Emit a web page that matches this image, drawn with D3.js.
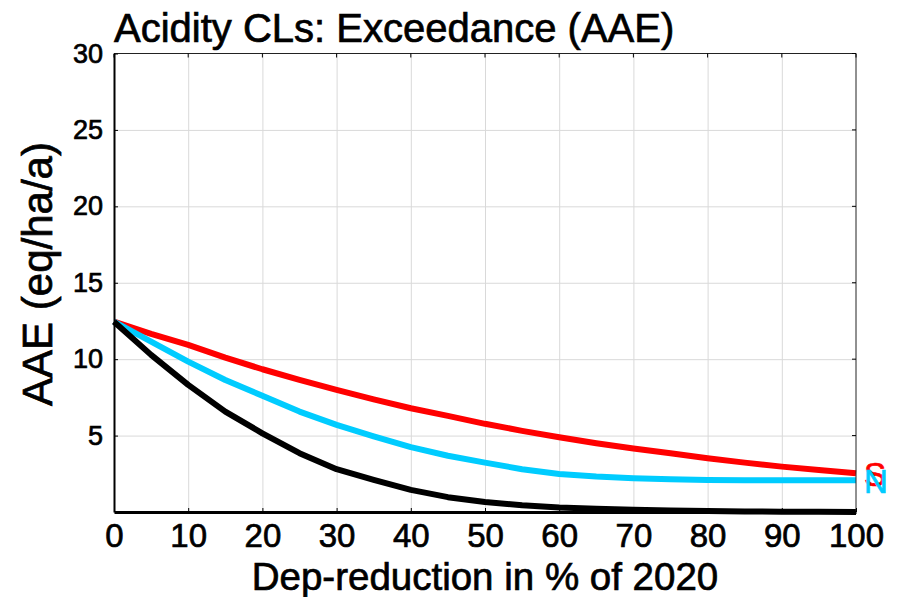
<!DOCTYPE html>
<html>
<head>
<meta charset="utf-8">
<script src="https://cdn.jsdelivr.net/npm/d3@7"></script>
<style>
    body { margin: 0; background: #fff; }
    text { font-family: "Liberation Sans", Arial, sans-serif; fill: #000; stroke-width: 0.7; paint-order: stroke; }
    .grid line { stroke: #d9d9d9; stroke-width: 1; }
    .grid path { display: none; }
    .line { fill: none; stroke-width: 6; stroke-linejoin: round; stroke-linecap: butt; }
</style>
</head>
<body>
<div id="chart"></div>
<script>
// Deposition reduction steps (%)
const REDUCTION = [0, 5, 10, 15, 20, 25, 30, 35, 40, 45, 50, 55, 60, 65, 70, 75, 80, 85, 90, 95, 100];
// AAE when reducing S only
const AAE_S = [12.45, 11.66, 10.93, 10.1, 9.34, 8.64, 7.99, 7.37, 6.79, 6.29, 5.77, 5.31, 4.89, 4.5, 4.15, 3.84, 3.52, 3.23, 2.97, 2.75, 2.54];
// AAE when reducing N only
const AAE_N = [12.45, 11.15, 9.84, 8.64, 7.6, 6.57, 5.7, 4.95, 4.24, 3.68, 3.23, 2.8, 2.49, 2.32, 2.21, 2.15, 2.1, 2.08, 2.08, 2.08, 2.08];
// AAE when reducing both
const AAE_SN = [12.45, 10.28, 8.32, 6.57, 5.15, 3.85, 2.8, 2.1, 1.45, 0.97, 0.66, 0.44, 0.3, 0.22, 0.15, 0.1, 0.06, 0.04, 0.02, 0.01, 0];

const X_TICKS = [0, 10, 20, 30, 40, 50, 60, 70, 80, 90, 100];
const Y_TICKS = [5, 10, 15, 20, 25, 30];

const width = 904;
const height = 597;
const margin = {top: 53.5, right: 48, bottom: 85, left: 114};
const innerWidth = width - margin.left - margin.right;
const innerHeight = height - margin.top - margin.bottom;

const svg = d3.select("#chart")
    .append("svg")
    .attr("width", width)
    .attr("height", height);

const xScale = d3.scaleLinear().domain([0, 100]).range([0, innerWidth]);
const yScale = d3.scaleLinear().domain([0, 30]).range([innerHeight, 0]);

const root = svg.append("g")
    .attr("transform", `translate(${margin.left}, ${margin.top})`);

// Grid
root.append("g")
    .attr("class", "grid")
    .call(d3.axisBottom(xScale).tickValues(X_TICKS.slice(1, -1)).tickSize(innerHeight).tickFormat(""));
root.append("g")
    .attr("class", "grid")
    .call(d3.axisLeft(yScale).tickValues(Y_TICKS.slice(0, -1)).tickSize(-innerWidth).tickFormat(""));

// Series
const lineGen = d3.line()
    .x((d, i) => xScale(REDUCTION[i]))
    .y(d => yScale(d));

const SERIES = [
    {values: AAE_S, color: "#ff0000", label: "S"},
    {values: AAE_N, color: "#00ccff", label: "N"},
    {values: AAE_SN, color: "#000000", label: null}
];

root.selectAll(".line")
    .data(SERIES)
  .enter().append("path")
    .attr("class", "line")
    .attr("stroke", d => d.color)
    .attr("d", d => lineGen(d.values));

// Frame: top and right thin
root.append("line")
    .attr("x1", 0).attr("x2", innerWidth).attr("y1", 0).attr("y2", 0)
    .attr("stroke", "#222").attr("stroke-width", 1);
root.append("line")
    .attr("x1", innerWidth).attr("x2", innerWidth).attr("y1", 0).attr("y2", innerHeight)
    .attr("stroke", "#222").attr("stroke-width", 1);

// Inward ticks on top and right
root.selectAll(".tick-top")
    .data(X_TICKS)
  .enter().append("line")
    .attr("x1", d => xScale(d)).attr("x2", d => xScale(d))
    .attr("y1", 0).attr("y2", 4)
    .attr("stroke", "#000");
root.selectAll(".tick-right")
    .data(Y_TICKS)
  .enter().append("line")
    .attr("x1", innerWidth).attr("x2", innerWidth - 4)
    .attr("y1", d => yScale(d)).attr("y2", d => yScale(d))
    .attr("stroke", "#000");

// X axis
const xAxis = root.append("g")
    .attr("transform", `translate(0, ${innerHeight})`)
    .call(d3.axisBottom(xScale).tickValues(X_TICKS).tickSizeInner(-4).tickSizeOuter(0).tickPadding(11));
xAxis.select(".domain").attr("stroke", "#000").attr("stroke-width", 3);
xAxis.selectAll(".tick line").attr("stroke", "#000");
xAxis.selectAll(".tick text")
    .attr("font-size", 33)
    .attr("dy", "0.72em")
    .style("stroke", "#000");

// Y axis
const yAxis = root.append("g")
    .call(d3.axisLeft(yScale).tickValues(Y_TICKS).tickSizeInner(-4).tickSizeOuter(0).tickPadding(11));
yAxis.select(".domain").attr("stroke", "#000").attr("stroke-width", 2);
yAxis.selectAll(".tick line").attr("stroke", "#000");
yAxis.selectAll(".tick text")
    .attr("font-size", 27)
    .style("stroke", "#000");

// End labels
root.selectAll(".end-label")
    .data(SERIES.filter(d => d.label))
  .enter().append("text")
    .attr("class", "end-label")
    .attr("x", innerWidth + 8)
    .attr("y", d => yScale(d.values[d.values.length - 1]))
    .attr("dy", "0.38em")
    .attr("font-size", 33)
    .style("fill", d => d.color)
    .style("stroke", d => d.color)
    .text(d => d.label);

// Title and axis labels
svg.append("text")
    .attr("x", margin.left)
    .attr("y", 42)
    .attr("font-size", 40)
    .style("stroke", "#000")
    .text("Acidity CLs: Exceedance (AAE)");

svg.append("text")
    .attr("x", margin.left + innerWidth / 2)
    .attr("y", 590)
    .attr("text-anchor", "middle")
    .attr("font-size", 38.5)
    .style("stroke", "#000")
    .text("Dep-reduction in % of 2020");

svg.append("text")
    .attr("transform", `translate(52, 274) rotate(-90)`)
    .attr("text-anchor", "middle")
    .attr("font-size", 42)
    .style("stroke", "#000")
    .text("AAE (eq/ha/a)");
</script>
</body>
</html>
